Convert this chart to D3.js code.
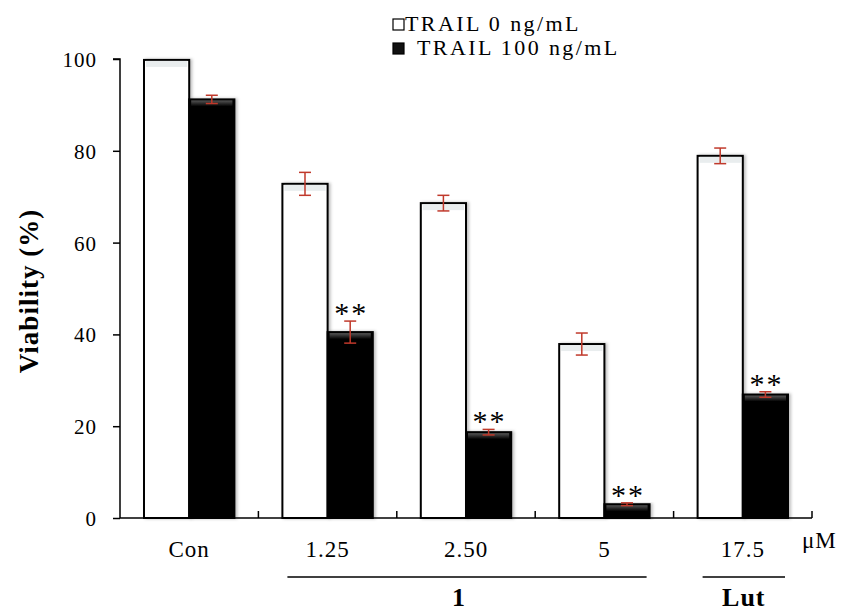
<!DOCTYPE html>
<html>
<head>
<meta charset="utf-8">
<script src="https://cdn.jsdelivr.net/npm/d3@7"></script>
<style>
  body { margin: 0; background: #fff; }
  text { font-family: "Liberation Serif", "DejaVu Serif", serif; }
</style>
</head>
<body>
<div id="chart"></div>
<script>
// data
var categories = ["Con", "1.25", "2.50", "5", "17.5"];
var seriesNames = ["TRAIL 0 ng/mL", "TRAIL 100 ng/mL"];
var trail0 = [99.8, 72.8, 68.6, 37.9, 78.9];
var trail0Err = [0, 2.5, 1.7, 2.4, 1.7];
var trail100 = [91.2, 40.5, 18.7, 3.0, 26.9];
var trail100Err = [0.9, 2.4, 0.6, 0.3, 0.6];
var stars = ["", "**", "**", "**", "**"];
var yTicks = [0, 20, 40, 60, 80, 100];
var groups = [{label: "1", from: 1, to: 3, shift: -8}, {label: "Lut", from: 4, to: 4, shift: 0}];

var W = 842, H = 612;
var margin = {top: 59, right: 30, bottom: 94, left: 120},
    width = 812 - margin.left,
    height = 518 - margin.top;

var svg = d3.select("#chart").append("svg")
    .attr("width", W).attr("height", H)
  .append("g")
    .attr("transform", "translate(" + margin.left + "," + margin.top + ")");

var x = d3.scaleBand().domain(categories).range([0, width]).paddingInner(0).paddingOuter(0);
var inner = d3.scaleBand().domain(seriesNames).range([24, x.bandwidth() - 24]).padding(0);
var y = d3.scaleLinear().domain([0, 100]).range([height, 0]);

var defs = svg.append("defs");
var gBlack = defs.append("linearGradient").attr("id", "gBlack").attr("x1", 0).attr("y1", 0).attr("x2", 0).attr("y2", 1);
gBlack.append("stop").attr("offset", 0).attr("stop-color", "#555");
gBlack.append("stop").attr("offset", 1).attr("stop-color", "#000");
var shadow = defs.append("filter").attr("id", "shadow").attr("x", "-20%").attr("width", "140%");
shadow.append("feDropShadow").attr("dx", 2).attr("dy", 0).attr("stdDeviation", 1.5)
    .attr("flood-color", "#000").attr("flood-opacity", 0.25);

var data = categories.map(function(c, i) {
  return [
    {cat: c, s: seriesNames[0], v: trail0[i], e: trail0Err[i], star: ""},
    {cat: c, s: seriesNames[1], v: trail100[i], e: trail100Err[i], star: stars[i]}
  ];
});

var grp = svg.selectAll(".grp").data(data).enter().append("g")
    .attr("transform", function(d, i) { return "translate(" + x(categories[i]) + ",0)"; });

grp.selectAll("rect.bar").data(function(d) { return d; }).enter().append("rect")
    .attr("class", "bar")
    .attr("x", function(d) { return inner(d.s); })
    .attr("width", inner.bandwidth())
    .attr("y", function(d) { return y(d.v); })
    .attr("height", function(d) { return height - y(d.v); })
    .style("fill", function(d, i) { return i === 0 ? "#fff" : "#000"; })
    .style("stroke", "#000")
    .style("stroke-width", 2)
    .attr("filter", "url(#shadow)");

// soft shading just under the top edge of each bar
grp.selectAll("rect.shade").data(function(d) { return d; }).enter().append("rect")
    .attr("class", "shade")
    .attr("x", function(d) { return inner(d.s) + 2; })
    .attr("width", inner.bandwidth() - 4)
    .attr("y", function(d) { return y(d.v) + 1; })
    .attr("height", function(d) { return Math.min(6, height - y(d.v) - 2); })
    .style("fill", function(d, i) { return i === 0 ? "#e4e8ea" : "url(#gBlack)"; })
    .style("opacity", function(d, i) { return i === 0 ? 0.8 : 1; });

// error bars
var eb = grp.selectAll("g.err").data(function(d) { return d.filter(function(p) { return p.e > 0; }); })
  .enter().append("g").attr("class", "err");
eb.append("line")
    .attr("x1", function(d) { return inner(d.s) + inner.bandwidth() / 2; })
    .attr("x2", function(d) { return inner(d.s) + inner.bandwidth() / 2; })
    .attr("y1", function(d) { return y(d.v + d.e); })
    .attr("y2", function(d) { return y(d.v - d.e); });
eb.selectAll("line.cap").data(function(d) { return [d.v + d.e, d.v - d.e].map(function(v) { return {s: d.s, v: v}; }); })
  .enter().append("line").attr("class", "cap")
    .attr("x1", function(d) { return inner(d.s) + inner.bandwidth() / 2 - 6; })
    .attr("x2", function(d) { return inner(d.s) + inner.bandwidth() / 2 + 6; })
    .attr("y1", function(d) { return y(d.v); })
    .attr("y2", function(d) { return y(d.v); });
eb.selectAll("line").style("stroke", "#c0392b").style("stroke-width", 1.5);

// significance stars
grp.selectAll("text.star").data(function(d) { return d.filter(function(p) { return p.star; }); })
  .enter().append("text")
    .attr("x", function(d) { return inner(d.s) + inner.bandwidth() / 2 + 1; })
    .attr("y", function(d) { return y(d.v + d.e) + 2; })
    .style("text-anchor", "middle")
    .style("font-size", "30px")
    .style("letter-spacing", "2px")
    .text(function(d) { return d.star; });

// Y axis
var yAxis = svg.append("g").call(d3.axisLeft(y).tickValues(yTicks).tickSize(7).tickPadding(16));
yAxis.select(".domain").attr("d", "M0," + height + "V0H-7").style("stroke-width", 1.5);
yAxis.selectAll(".tick line").style("stroke-width", 1.5);
yAxis.selectAll("text")
    .attr("dy", "0.36em")
    .style("font-size", "21px")
    .style("letter-spacing", "1px")
    .style("font-family", "Liberation Serif");

// X axis: ticks between categories, pointing up
var xb = svg.append("g").attr("transform", "translate(0," + height + ")");
xb.append("line").attr("x1", 0).attr("x2", width).style("stroke", "#000").style("stroke-width", 1.5);
var bounds = categories.slice(1).map(function(c) { return x(c); }).concat([width]);
xb.selectAll("line.tk").data(bounds).enter().append("line").attr("class", "tk")
    .attr("x1", function(d) { return d; }).attr("x2", function(d) { return d; })
    .attr("y1", 0).attr("y2", -7)
    .style("stroke", "#000").style("stroke-width", 1.5);
xb.selectAll("text.cat").data(categories).enter().append("text").attr("class", "cat")
    .attr("x", function(d) { return x(d) + x.bandwidth() / 2; })
    .attr("y", 39)
    .style("text-anchor", "middle")
    .style("font-size", "23px")
    .style("letter-spacing", "1px")
    .text(function(d) { return d; });
xb.append("text").attr("x", width - 10).attr("y", 30)
    .style("font-size", "23px").style("letter-spacing", "1px").text("μM");

// group brackets
var gb = xb.selectAll("g.gb").data(groups).enter().append("g");
gb.append("line")
    .attr("x1", function(d) { return x(categories[d.from]) + 29; })
    .attr("x2", function(d) { return x(categories[d.to]) + x.bandwidth() - 27; })
    .attr("y1", 59).attr("y2", 59)
    .style("stroke", "#000").style("stroke-width", 1.5);
gb.append("text")
    .attr("x", function(d) { return (x(categories[d.from]) + 29 + x(categories[d.to]) + x.bandwidth() - 27) / 2 + d.shift; })
    .attr("y", 88)
    .style("text-anchor", "middle")
    .style("font-size", "26px")
    .style("font-weight", "bold")
    .style("letter-spacing", "1px")
    .text(function(d) { return d.label; });

// Y label
svg.append("text")
    .attr("transform", "rotate(-90)")
    .attr("x", -(291 - margin.top))
    .attr("y", 38 - margin.left)
    .style("text-anchor", "middle")
    .style("font-size", "27px")
    .style("font-weight", "bold")
    .style("letter-spacing", "1px")
    .text("Viability (%)");

// legend
var leg = svg.append("g").attr("transform", "translate(" + (393 - margin.left) + "," + (19 - margin.top) + ")");
var li = leg.selectAll("g").data(seriesNames).enter().append("g")
    .attr("transform", function(d, i) { return "translate(0," + (i * 24) + ")"; });
li.append("rect").attr("width", 11).attr("height", 11)
    .style("fill", function(d, i) { return i === 0 ? "#fff" : "#111"; })
    .style("stroke", "#000").style("stroke-width", 1.2);
li.append("text")
    .attr("x", function(d, i) { return i === 0 ? 12 : 24; })
    .attr("y", 12)
    .style("font-size", "22px")
    .style("letter-spacing", "2.4px")
    .text(function(d) { return d; });
</script>
</body>
</html>
